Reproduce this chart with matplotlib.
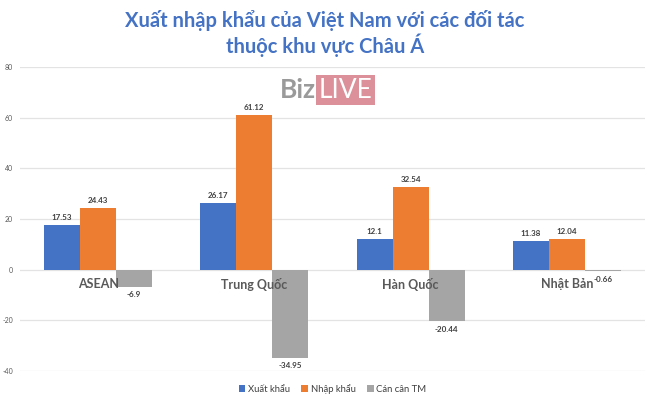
import matplotlib.pyplot as plt
import numpy as np

categories = ['ASEAN', 'Trung Quốc', 'Hàn Quốc', 'Nhật Bản']
xuat_khau = [17.53, 26.17, 12.1, 11.38]
nhap_khau = [24.43, 61.12, 32.54, 12.04]
can_can = [-6.9, -34.95, -20.44, -0.66]
series_names = ['Xuất khẩu', 'Nhập khẩu', 'Cán cân TM']
colors = ['#4472C4', '#ED7D31', '#A5A5A5']
yticks = [-40, -20, 0, 20, 40, 60, 80]

plt.rcParams['font.family'] = ['Lato', 'DejaVu Sans']

fig = plt.figure(figsize=(6.5, 3.99), dpi=100)
ax = fig.add_axes([20 / 650, 28 / 399, 625 / 650, 304 / 399])

x = np.arange(len(categories))
w = 0.23
for i, (vals, name, c) in enumerate(zip([xuat_khau, nhap_khau, can_can], series_names, colors)):
    bars = ax.bar(x + (i - 1) * w, vals, w, color=c, label=name, zorder=3)
    for b, v in zip(bars, vals):
        xc = b.get_x() + b.get_width() / 2
        if v >= 0:
            ax.annotate(f'{v:g}', (xc, v), xytext=(0, 3), textcoords='offset points',
                        ha='center', va='bottom', fontsize=5.8, fontweight='bold', color='#404040')
        else:
            ax.annotate(f'{v:g}', (xc, v), xytext=(0, -3), textcoords='offset points',
                        ha='center', va='top', fontsize=5.8, fontweight='bold', color='#404040')

ax.set_xlim(-0.5, 3.5)
ax.set_ylim(-40, 80)
ax.set_yticks(yticks)
ax.set_yticklabels([str(t) for t in yticks], fontsize=5, color='#595959')
ax.tick_params(axis='y', length=0, pad=5)
ax.set_xticks([])
ax.yaxis.grid(True, color='#E3E3E3', linewidth=0.9, zorder=0)
for s in ax.spines.values():
    s.set_visible(False)

# category labels sit just under the zero line
for xi, cat in zip(x, categories):
    ax.annotate(cat, (xi, 0), xytext=(0, -6), textcoords='offset points',
                ha='center', va='top', fontsize=9, fontweight='bold', color='#595959')

fig.text(0.5, 0.948, 'Xuất nhập khẩu của Việt Nam với các đối tác', ha='center', va='center',
         fontsize=14.5, fontweight='bold', color='#4472C4')
fig.text(0.5, 0.886, 'thuộc khu vực Châu Á', ha='center', va='center',
         fontsize=14.5, fontweight='bold', color='#4472C4')

# BizLIVE watermark
fig.text(316 / 650, 1 - 90 / 399, 'Biz', ha='right', va='center', fontsize=19,
         fontweight='bold', color='#9A9A9A')
fig.text(319 / 650, 1 - 90 / 399, 'LIVE', ha='left', va='center', fontsize=19,
         color='white', bbox=dict(boxstyle='square,pad=0.1', fc='#DC909A', ec='none'))

ax.legend(loc='upper center', bbox_to_anchor=(0.5, -0.015), ncol=3, frameon=False,
          fontsize=6.8, handlelength=0.7, handleheight=0.7, handletextpad=0.3,
          columnspacing=1.2, labelcolor='#404040')

fig.savefig('out.png', dpi=100)
